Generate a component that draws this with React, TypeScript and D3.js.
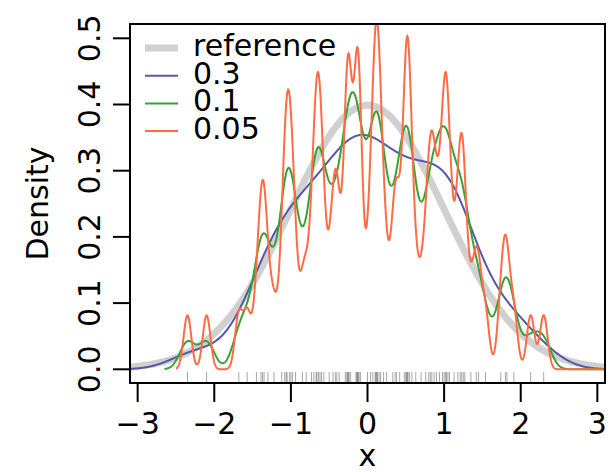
import React, { useEffect, useRef } from "react";
import * as d3 from "d3";

// sample values
const sample = [
  -2.35, -2.1,
  -1.68, -1.57, -1.45, -1.39, -1.37, -1.35, -1.3, -1.22,
  -1.12, -1.08, -1.06, -1.05, -1.02, -1.0, -0.98, -0.94,
  -0.85, -0.8,
  -0.73, -0.7, -0.67, -0.66, -0.64, -0.62, -0.6, -0.57,
  -0.5, -0.45, -0.42, -0.4, -0.37,
  -0.29, -0.27, -0.26, -0.25, -0.24, -0.22,
  -0.15, -0.14, -0.13, -0.12, -0.11, -0.09,
  0.0, 0.04,
  0.07, 0.1, 0.11, 0.12, 0.13, 0.15, 0.17, 0.21,
  0.25, 0.33, 0.36, 0.38, 0.42,
  0.48, 0.5, 0.51, 0.52, 0.53, 0.55, 0.58,
  0.63, 0.7, 0.76,
  0.8, 0.82, 0.84, 0.87, 0.9, 0.94,
  0.98, 1.0, 1.02, 1.03, 1.05, 1.07, 1.13,
  1.18, 1.21, 1.23, 1.25, 1.27,
  1.35, 1.42, 1.45, 1.54,
  1.74, 1.8, 1.82, 1.91,
  2.13, 2.3,
];

const bandwidths = [0.3, 0.1, 0.05];
const bwColors = ["#5457ad", "#35a333", "#ff6b45"];
const legendLabels = ["reference", "0.3", "0.1", "0.05"];
const legendColors = ["#d0d0d0", ...bwColors];
const xTicks = [-3, -2, -1, 0, 1, 2, 3];
const yTicks = [0, 0.1, 0.2, 0.3, 0.4, 0.5];

const FONT = "DejaVu Sans, sans-serif";

const App = () => {
  const ref = useRef(null);

  useEffect(() => {
    const svg = d3.select(ref.current);
    svg.selectAll("*").remove();

    const left = 130, right = 605, top = 24, bottom = 383;
    const x = d3.scaleLinear().domain([-3.1, 3.1]).range([left, right]);
    const y = d3.scaleLinear().domain([-0.0207, 0.5216]).range([bottom, top]);

    svg.append("defs").append("clipPath").attr("id", "plotclip")
      .append("rect").attr("x", left).attr("y", top)
      .attr("width", right - left).attr("height", bottom - top);

    const g = svg.append("g").attr("clip-path", "url(#plotclip)");
    const line = d3.line().x((d) => x(d[0])).y((d) => y(d[1]));

    // reference normal density
    const refPts = d3.range(-3.2, 3.2001, 0.01).map((v) => [v, Math.exp(-v * v / 2) / Math.sqrt(2 * Math.PI)]);
    g.append("path").attr("d", line(refPts)).attr("fill", "none")
      .attr("stroke", legendColors[0]).attr("stroke-width", 7);

    const n = sample.length;
    const lo = d3.min(sample);
    bandwidths.forEach((bw, i) => {
      const pts = d3.range(lo - 3 * bw, 3.2, 0.004).map((v) => {
        let s = 0;
        sample.forEach((xi) => {
          const z = (v - xi) / bw;
          s += Math.exp(-0.5 * z * z);
        });
        return [v, s / (n * bw * Math.sqrt(2 * Math.PI))];
      });
      g.append("path").attr("d", line(pts)).attr("fill", "none")
        .attr("stroke", bwColors[i]).attr("stroke-width", 2);
    });

    // rug
    g.selectAll("line.rug").data(sample).enter().append("line")
      .attr("class", "rug")
      .attr("x1", (d) => x(d)).attr("x2", (d) => x(d))
      .attr("y1", bottom).attr("y2", bottom - 11)
      .attr("stroke", "#000").attr("stroke-opacity", 0.35).attr("stroke-width", 1);

    // box
    svg.append("rect").attr("x", left).attr("y", top)
      .attr("width", right - left).attr("height", bottom - top)
      .attr("fill", "none").attr("stroke", "#000").attr("stroke-width", 2);

    // x axis
    svg.selectAll("line.xt").data(xTicks).enter().append("line")
      .attr("x1", (d) => x(d)).attr("x2", (d) => x(d))
      .attr("y1", bottom).attr("y2", bottom + 19)
      .attr("stroke", "#000").attr("stroke-width", 2);
    svg.selectAll("text.xt").data(xTicks).enter().append("text")
      .attr("x", (d) => x(d)).attr("y", 434)
      .attr("text-anchor", "middle").attr("font-family", FONT).attr("font-size", 30)
      .text((d) => (d < 0 ? "\u2212" + Math.abs(d) : String(d)));
    svg.append("text").attr("x", (left + right) / 2).attr("y", 466)
      .attr("text-anchor", "middle").attr("font-family", FONT).attr("font-size", 30)
      .text("x");

    // y axis
    svg.selectAll("line.yt").data(yTicks).enter().append("line")
      .attr("x1", left - 17).attr("x2", left)
      .attr("y1", (d) => y(d)).attr("y2", (d) => y(d))
      .attr("stroke", "#000").attr("stroke-width", 2);
    svg.selectAll("text.yt").data(yTicks).enter().append("text")
      .attr("transform", (d) => `translate(100,${y(d)}) rotate(-90)`)
      .attr("text-anchor", "middle").attr("font-family", FONT).attr("font-size", 30)
      .text((d) => d.toFixed(1));
    svg.append("text").attr("transform", `translate(48,${(top + bottom) / 2}) rotate(-90)`)
      .attr("text-anchor", "middle").attr("font-family", FONT).attr("font-size", 30)
      .text("Density");

    // legend
    const leg = svg.append("g");
    legendLabels.forEach((lab, i) => {
      const by = 56 + i * 27.7;
      leg.append("line").attr("x1", 145).attr("x2", 178)
        .attr("y1", by - 8).attr("y2", by - 8)
        .attr("stroke", legendColors[i]).attr("stroke-width", i === 0 ? 7 : 2);
      leg.append("text").attr("x", 193).attr("y", by)
        .attr("font-family", FONT).attr("font-size", 30).text(lab);
    });
  }, []);

  return (
    <div style={{ position: "absolute", left: 0, top: 0 }}>
      <svg ref={ref} width={610} height={472} style={{ display: "block" }}></svg>
    </div>
  );
};

export default App;
